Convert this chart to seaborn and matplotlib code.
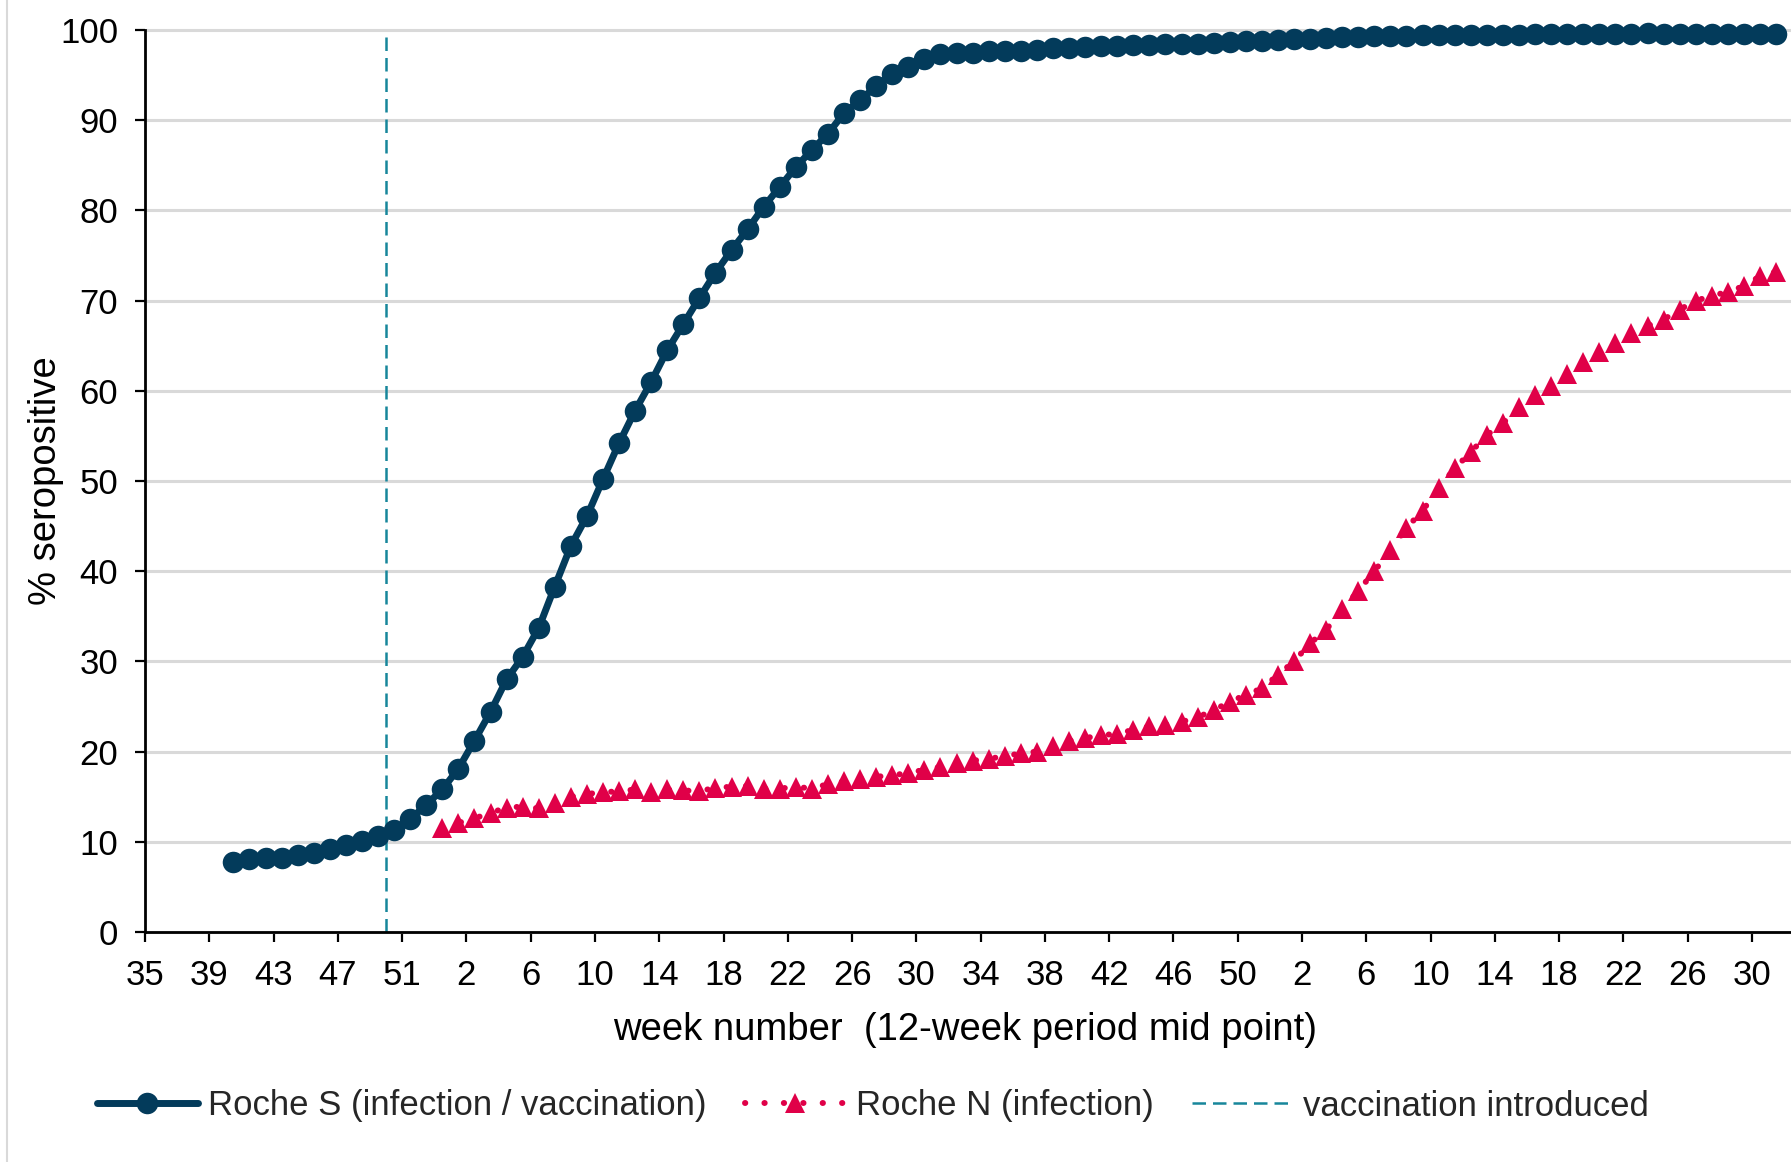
import numpy as np
import pandas as pd
import matplotlib
matplotlib.use("Agg")
import matplotlib.pyplot as plt
from matplotlib.lines import Line2D
import seaborn as sns

# ---- calendar: ISO weeks from 2020-W35 to 2022-W32 (2020 has 53 weeks) ----
weeks_per_year = {2020: 53, 2021: 52, 2022: 32}
first_week = (2020, 35)

tick_labels = ["35", "39", "43", "47", "51",
               "2", "6", "10", "14", "18", "22", "26", "30", "34", "38", "42", "46", "50",
               "2", "6", "10", "14", "18", "22", "26", "30"]

# ---- seroprevalence (%), one value per 12-week period mid-point week ----
s_label = "Roche S (infection / vaccination)"
s_start = (2020, 40)
s_values = [7.8, 8.1, 8.2, 8.2, 8.5, 8.8, 9.2, 9.6, 10.1, 10.6,
            11.3, 12.5, 14.1, 15.8, 18.1, 21.2, 24.4, 28.0, 30.5, 33.7,
            38.3, 42.8, 46.1, 50.2, 54.2, 57.8, 61.0, 64.5, 67.4, 70.3,
            73.1, 75.6, 77.9, 80.4, 82.6, 84.8, 86.7, 88.5, 90.8, 92.2,
            93.8, 95.1, 95.9, 96.8, 97.3, 97.4, 97.5, 97.7, 97.7, 97.7,
            97.8, 98.0, 98.0, 98.1, 98.2, 98.2, 98.3, 98.3, 98.4, 98.5,
            98.5, 98.6, 98.7, 98.8, 98.8, 98.9, 99.0, 99.0, 99.1, 99.2,
            99.2, 99.3, 99.3, 99.3, 99.4, 99.4, 99.4, 99.5, 99.5, 99.5,
            99.5, 99.6, 99.6, 99.6, 99.6, 99.6, 99.6, 99.6, 99.7, 99.6,
            99.6, 99.6, 99.6, 99.6, 99.6, 99.6, 99.6]

n_label = "Roche N (infection)"
n_start = (2020, 53)
n_values = [11.5, 12.1, 12.6, 13.2, 13.8, 13.9, 13.7, 14.3, 15.0, 15.3,
            15.5, 15.6, 15.8, 15.5, 15.8, 15.7, 15.6, 16.0, 16.1, 16.2,
            15.9, 15.9, 16.1, 15.9, 16.4, 16.7, 17.0, 17.2, 17.4, 17.6,
            18.0, 18.3, 18.7, 19.0, 19.2, 19.5, 19.8, 20.0, 20.6, 21.2,
            21.5, 21.8, 22.0, 22.4, 22.8, 23.0, 23.3, 23.8, 24.6, 25.5,
            26.3, 27.0, 28.5, 30.0, 32.0, 33.5, 35.8, 37.8, 40.0, 42.3,
            44.8, 46.7, 49.2, 51.4, 53.2, 55.1, 56.4, 58.2, 59.5, 60.5,
            61.9, 63.2, 64.3, 65.3, 66.4, 67.2, 67.9, 69.0, 70.0, 70.5,
            71.0, 71.6, 72.7, 73.2]

vaccination_label = "vaccination introduced"
vaccination_week = (2020, 50)

# ---- category positions ----
categories = []
for year, n_weeks in weeks_per_year.items():
    start = first_week[1] if year == first_week[0] else 1
    categories += [(year, w) for w in range(start, n_weeks + 1)]
cat_index = {c: i for i, c in enumerate(categories)}


def series_frame(start, values):
    pos = cat_index[start] + np.arange(len(values)) + 0.5  # centred in the week
    return pd.DataFrame({"position": pos, "percent": values})


s_df = series_frame(s_start, s_values)
n_df = series_frame(n_start, n_values)
tick_pos = np.arange(len(tick_labels)) * 4

# ---- style ----
s_color = "#033B5B"
n_color = "#E00048"
vacc_color = "#17869B"
fs = 25
title_fs = 27.5

sns.set_theme(style="white")
plt.rcParams["font.family"] = ["Liberation Sans", "DejaVu Sans"]

W, H = 1791, 1162
fig = plt.figure(figsize=(W / 100, H / 100), dpi=100)
ax = fig.add_axes([145 / W, 1 - 932 / H, 1 - 145 / W, (932 - 30) / H])

sns.lineplot(data=s_df, x="position", y="percent", ax=ax, color=s_color,
             linewidth=5, marker="o", markersize=15.5, markeredgewidth=0,
             markeredgecolor=s_color, errorbar=None, clip_on=False,
             label=s_label, zorder=4)
sns.lineplot(data=n_df, x="position", y="percent", ax=ax, color=n_color,
             linewidth=4.3, linestyle=(0, (0.05, 3.2)), dash_capstyle="round",
             marker="^", markersize=15, markeredgewidth=0,
             markeredgecolor=n_color, errorbar=None, clip_on=False,
             label=n_label, zorder=3)
ax.axvline(cat_index[vaccination_week], color=vacc_color, lw=1.8,
           linestyle=(0, (5.4, 2.8)), label=vaccination_label, zorder=2)

# axes
ax.set_xlim(0, (W - 145) / 16.07)
ax.set_ylim(0, 100)
ax.set_xticks(tick_pos, tick_labels)
ax.set_yticks(np.arange(0, 101, 10))
ax.tick_params(axis="both", direction="out", length=7.2, width=1.6,
               color="black", labelsize=fs, labelcolor="black", pad=12)
ax.tick_params(axis="x", bottom=True)
ax.tick_params(axis="y", left=True)
for side in ("top", "right"):
    ax.spines[side].set_visible(False)
for side in ("left", "bottom"):
    ax.spines[side].set_color("black")
    ax.spines[side].set_linewidth(2)
ax.yaxis.grid(True, color="#D9D9D9", lw=2.2)
ax.xaxis.grid(False)
ax.set_axisbelow(True)
for gl in ax.get_ygridlines():
    gl.set_clip_on(False)

ax.set_xlabel("week number  (12-week period mid point)", fontsize=title_fs, color="black")
ax.set_ylabel("% seropositive", fontsize=title_fs, color="black")
ax.xaxis.set_label_coords((965 - 145) / (W - 145), (932 - 1030) / 902)
ax.xaxis.label.set_va("center")
ax.yaxis.set_label_coords((46 - 145) / (W - 145), 0.5)
ax.yaxis.label.set_va("center")

# legend below the plot
handles, labels = ax.get_legend_handles_labels()
if ax.get_legend() is not None:
    ax.get_legend().remove()
fig.legend(handles, labels, loc="center left",
           bbox_to_anchor=(97 / W, 1 - 1106 / H), ncol=3, frameon=False,
           fontsize=fs, handlelength=2.9, handletextpad=0.3,
           columnspacing=1.1, borderpad=0, borderaxespad=0)

# thin frame edge at the left of the chart area
fig.add_artist(Line2D([7 / W, 7 / W], [0, 1], transform=fig.transFigure,
                      color="#D9D9D9", lw=1.5))

fig.savefig("out.png", dpi=100)
